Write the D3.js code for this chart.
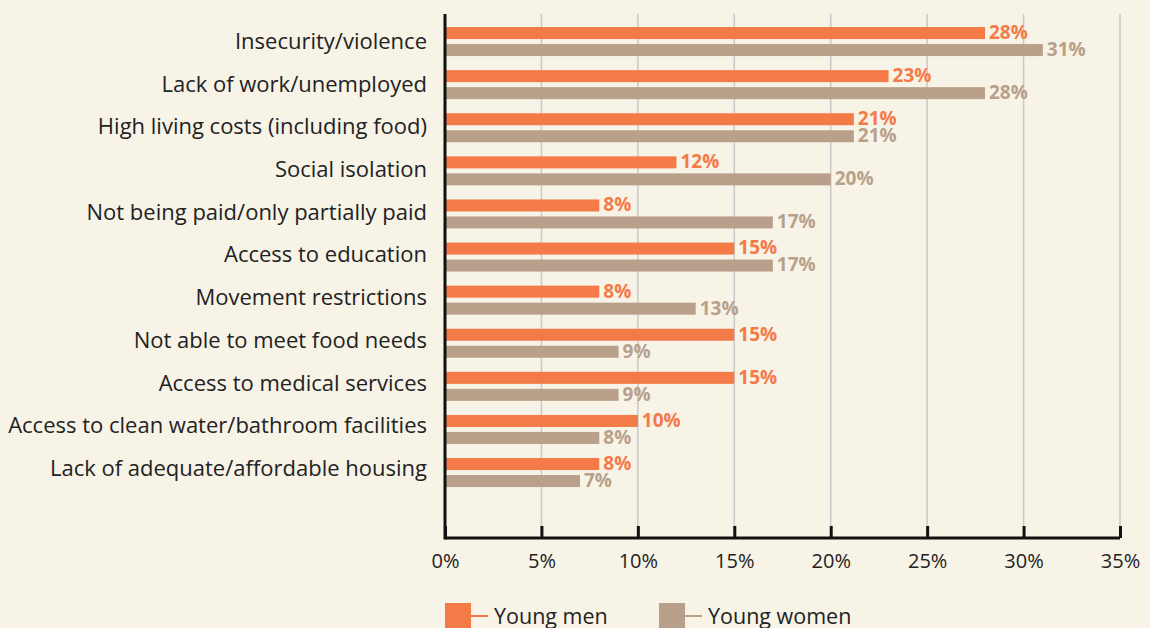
<!DOCTYPE html>
<html><head><meta charset="utf-8">
<script src="https://cdn.jsdelivr.net/npm/d3@7"></script>
<style>
html,body{margin:0;padding:0;background:#F7F3E7;}
svg{display:block;font-family:"Open Sans","Noto Sans",sans-serif;}
</style></head>
<body>
<svg id="chart" width="1150" height="628"></svg>
<script>
const categories = [
  "Insecurity/violence",
  "Lack of work/unemployed",
  "High living costs (including food)",
  "Social isolation",
  "Not being paid/only partially paid",
  "Access to education",
  "Movement restrictions",
  "Not able to meet food needs",
  "Access to medical services",
  "Access to clean water/bathroom facilities",
  "Lack of adequate/affordable housing"
];
const youngMen =   [28, 23, 21.2, 12, 8, 15, 8, 15, 15, 10, 8];
const youngWomen = [31, 28, 21.2, 20, 17, 17, 13, 9, 9, 8, 7];
const seriesNames = ["Young men", "Young women"];
const xTicks = [0, 5, 10, 15, 20, 25, 30, 35];

(function () {
const colors = ["#F47A48", "#B8A08B"];
const svg = d3.select("#chart");
const x0 = 445, x1 = 1120, axisY = 538, plotTop = 14;
const x = d3.scaleLinear().domain([0, 35]).range([x0, x1]);
const y = d3.scaleBand().domain(categories).range([20, 20 + 11 * 43.1]);
const yLabel = d3.scaleBand().domain(categories).range([20, 20 + 11 * 42.67]);
const barH = 12, gap = 5;
const inner = barH * 2 + gap;
const fmt = d => Math.round(d) + "%";

// grid
svg.append("g").selectAll("line").data(xTicks.slice(1)).join("line")
  .attr("x1", d => x(d)).attr("x2", d => x(d))
  .attr("y1", plotTop).attr("y2", axisY)
  .attr("stroke", "#c9c9c9").attr("stroke-width", 1.5);

// bars
const groups = svg.append("g").selectAll("g").data(categories).join("g")
  .attr("transform", d => `translate(0,${y(d) + (y.bandwidth() - inner) / 2})`);

[youngMen, youngWomen].forEach((vals, si) => {
  groups.append("rect")
    .attr("x", x(0))
    .attr("y", si * (barH + gap))
    .attr("width", (d, i) => x(vals[i]) - x(0))
    .attr("height", barH)
    .attr("fill", colors[si]);
  groups.append("text")
    .attr("x", (d, i) => x(vals[i]) + 4)
    .attr("y", si * (barH + gap) + barH / 2)
    .attr("dy", "0.31em")
    .attr("fill", colors[si])
    .attr("font-weight", "bold")
    .attr("font-size", 19)
    .text((d, i) => fmt(vals[i]));
});

// category labels
svg.append("g").selectAll("text").data(categories).join("text")
  .attr("x", 427)
  .attr("y", d => yLabel(d) + yLabel.bandwidth() / 2)
  .attr("dy", "0.355em")
  .attr("text-anchor", "end")
  .attr("font-size", 22)
  .attr("fill", "#222")
  .text(d => d);

// x axis
const xAxis = d3.axisBottom(x).tickValues(xTicks).tickFormat(d => d + "%").tickSize(-12).tickPadding(16);
const ax = svg.append("g").attr("transform", `translate(0,${axisY})`).call(xAxis);
ax.select(".domain").attr("stroke", "#111").attr("stroke-width", 3).attr("d", `M${x0},0H${x1}`);
ax.selectAll(".tick line").attr("stroke", "#111").attr("stroke-width", 3);
ax.selectAll(".tick text").attr("font-size", 20).attr("fill", "#222").attr("font-family", "'Open Sans','Noto Sans',sans-serif");

// y axis line
svg.append("line").attr("x1", x0).attr("x2", x0).attr("y1", plotTop).attr("y2", axisY + 1.5)
  .attr("stroke", "#111").attr("stroke-width", 3);

// legend
const legendX = [445, 659];
const lg = svg.append("g").selectAll("g").data(seriesNames).join("g")
  .attr("transform", (d, i) => `translate(${legendX[i]},603)`);
lg.append("rect").attr("width", 26).attr("height", 26).attr("fill", (d, i) => colors[i]);
lg.append("line").attr("x1", 26).attr("x2", 43).attr("y1", 13).attr("y2", 13)
  .attr("stroke", (d, i) => colors[i]).attr("stroke-width", 2);
lg.append("text").attr("x", 49).attr("y", 13).attr("dy", "0.36em")
  .attr("font-size", 21.5).attr("fill", "#222").text(d => d);
})();
</script>
</body></html>
